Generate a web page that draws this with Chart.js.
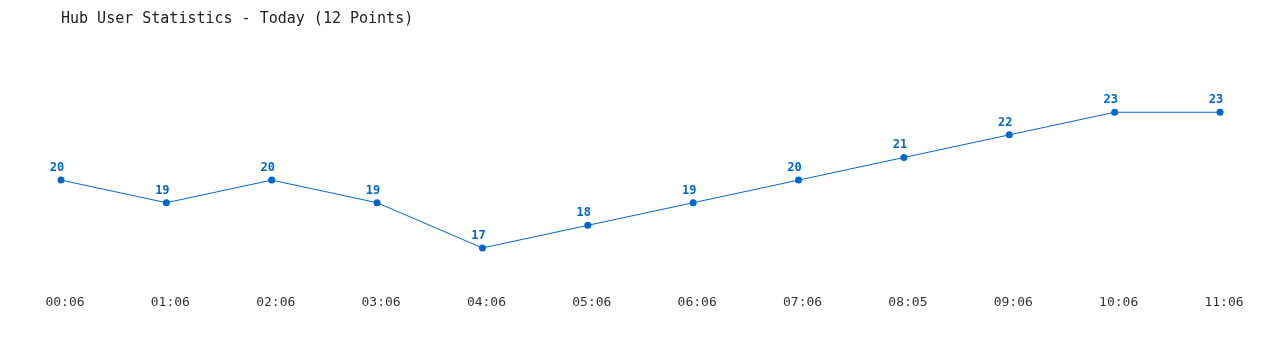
<!DOCTYPE html>
<html lang="en">

<head>
    <meta charset="UTF-8">
    <title>Hub User Statistics</title>
    <script src="https://cdn.jsdelivr.net/npm/chart.js"></script>
    <style>
        html, body { margin: 0; padding: 0; background: #fff; }
        .chart-box { width: 1280px; height: 350px; }
    </style>
</head>

<body>
    <div class="chart-box">
        <canvas id="hubUserChart"></canvas>
    </div>

    <script>
        const timeLabels = ['00:06', '01:06', '02:06', '03:06', '04:06', '05:06',
            '06:06', '07:06', '08:05', '09:06', '10:06', '11:06'];
        const userCounts = [20, 19, 20, 19, 17, 18, 19, 20, 21, 22, 23, 23];

        const lineColor = '#0066cc';
        const monoFont = "'DejaVu Sans Mono', 'Liberation Mono', monospace";

        // draws the number above each point
        const valueLabels = {
            id: 'valueLabels',
            afterDatasetsDraw(chart) {
                const ctx = chart.ctx;
                const meta = chart.getDatasetMeta(0);
                ctx.save();
                ctx.font = 'bold 12px ' + monoFont;
                ctx.fillStyle = lineColor;
                ctx.textAlign = 'center';
                ctx.textBaseline = 'alphabetic';
                meta.data.forEach((pt, i) => {
                    ctx.fillText(String(userCounts[i]), pt.x - 4, pt.y - 9);
                });
                ctx.restore();
            }
        };

        const ctx = document.getElementById('hubUserChart').getContext('2d');
        new Chart(ctx, {
            type: 'line',
            data: {
                labels: timeLabels,
                datasets: [{
                    label: 'Hub Users',
                    data: userCounts,
                    borderColor: lineColor,
                    backgroundColor: lineColor,
                    borderWidth: 1,
                    pointRadius: 3.5,
                    pointBorderWidth: 0,
                    pointBackgroundColor: lineColor,
                    tension: 0,
                    fill: false
                }]
            },
            options: {
                responsive: true,
                maintainAspectRatio: false,
                animation: false,
                layout: { padding: { left: 61, right: 60, top: 0, bottom: 26.5 } },
                plugins: {
                    legend: { display: false },
                    tooltip: { enabled: false },
                    title: {
                        display: true,
                        text: 'Hub User Statistics - Today (12 Points)',
                        align: 'start',
                        color: '#222',
                        font: { family: monoFont, size: 15, weight: 'normal' },
                        padding: { top: 10, bottom: 39 }
                    }
                },
                scales: {
                    x: {
                        offset: false,
                        grid: { display: false, drawTicks: false },
                        border: { display: false },
                        ticks: {
                            color: '#333',
                            font: { family: monoFont, size: 13 },
                            padding: 13,
                            labelOffset: 4,
                            maxRotation: 0,
                            autoSkip: false
                        }
                    },
                    y: {
                        display: false,
                        min: 15.5,
                        max: 25
                    }
                }
            },
            plugins: [valueLabels]
        });
    </script>
</body>

</html>
